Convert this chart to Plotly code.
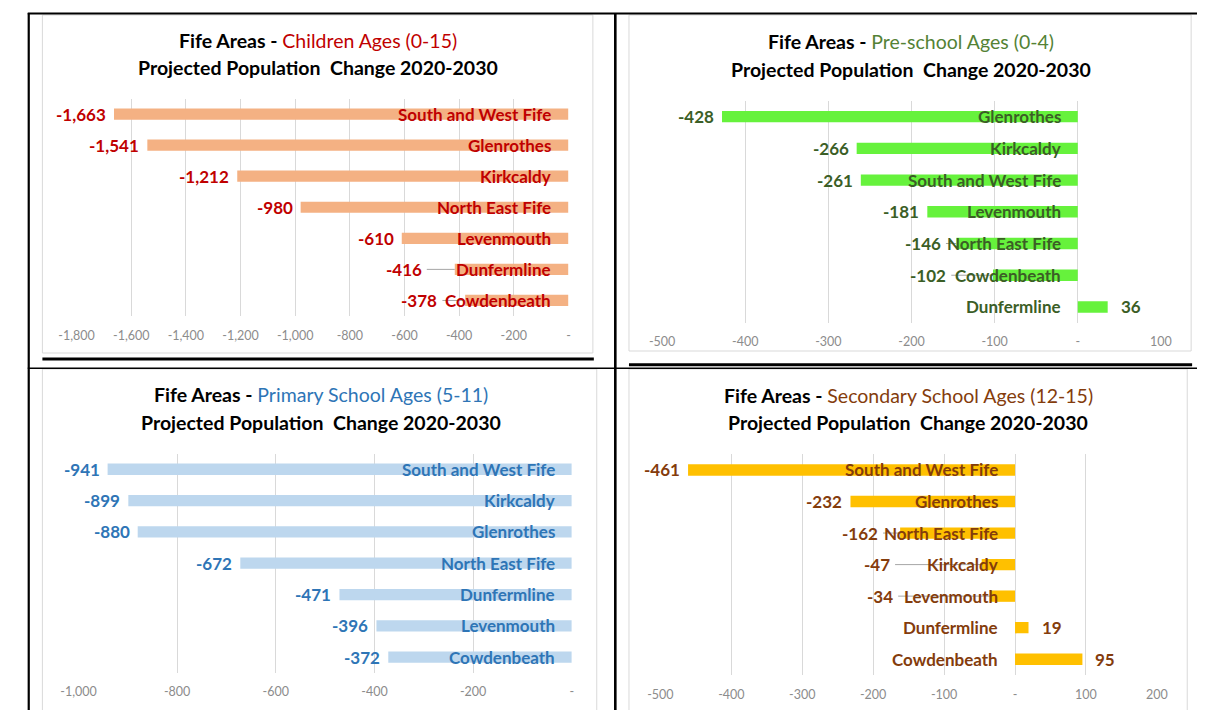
import plotly.graph_objects as go

# ---------------------------------------------------------------
# Projected population change 2020-2030, Fife areas (top to bottom)
# ---------------------------------------------------------------
children_areas = ["South and West Fife", "Glenrothes", "Kirkcaldy", "North East Fife",
                  "Levenmouth", "Dunfermline", "Cowdenbeath"]
children_change = [-1663, -1541, -1212, -980, -610, -416, -378]

preschool_areas = ["Glenrothes", "Kirkcaldy", "South and West Fife", "Levenmouth",
                   "North East Fife", "Cowdenbeath", "Dunfermline"]
preschool_change = [-428, -266, -261, -181, -146, -102, 36]

primary_areas = ["South and West Fife", "Kirkcaldy", "Glenrothes", "North East Fife",
                 "Dunfermline", "Levenmouth", "Cowdenbeath"]
primary_change = [-941, -899, -880, -672, -471, -396, -372]

secondary_areas = ["South and West Fife", "Glenrothes", "North East Fife", "Kirkcaldy",
                   "Levenmouth", "Dunfermline", "Cowdenbeath"]
secondary_change = [-461, -232, -162, -47, -34, 19, 95]

children_ticks = [-1800, -1600, -1400, -1200, -1000, -800, -600, -400, -200, 0]
children_tick_labels = ["-1,800", "-1,600", "-1,400", "-1,200", "-1,000",
                        "-800", "-600", "-400", "-200", "-"]
preschool_ticks = [-500, -400, -300, -200, -100, 0, 100]
preschool_tick_labels = ["-500", "-400", "-300", "-200", "-100", "-", "100"]
primary_ticks = [-1000, -800, -600, -400, -200, 0]
primary_tick_labels = ["-1,000", "-800", "-600", "-400", "-200", "-"]
secondary_ticks = [-500, -400, -300, -200, -100, 0, 100, 200]
secondary_tick_labels = ["-500", "-400", "-300", "-200", "-100", "-", "100", "200"]

W, H = 1208, 710
FONT = "Lato"


def px(x):
    return x / W


def py(y):
    return 1 - y / H


# Approximate advance widths (per 1000 em) of a bold humanist sans,
# used to keep value labels clear of the area names drawn over the bars.
_BOLD_W = {
    "a": 494, "b": 537, "c": 418, "d": 537, "e": 503, "f": 316, "g": 474, "h": 537,
    "i": 246, "k": 480, "l": 246, "m": 813, "n": 537, "o": 538, "r": 355, "s": 399,
    "t": 347, "u": 537, "v": 474, "w": 745, "y": 474, " ": 226, "C": 529, "D": 630,
    "E": 488, "F": 459, "G": 637, "K": 535, "L": 423, "N": 659, "S": 473, "W": 890,
}
REF_LABEL_PX = 18.7
NAME_SHIFT = -15      # area name offset from the zero line (px)
NEG_GAP = 6           # gap between a negative bar end and its value (px)
POS_GAP = 11          # gap after a positive bar end (px)

# value labels that were dragged further out, keyed by (chart, area), in px
LABEL_NUDGE = {(0, "Dunfermline"): -25, (3, "Kirkcaldy"): -30}


def label_width(text):
    return sum(_BOLD_W.get(c, 520) for c in text) / 1000 * REF_LABEL_PX


panels = [
    dict(areas=children_areas, change=children_change,
         ticks=children_ticks, tick_labels=children_tick_labels,
         group="Children Ages (0-15)", title_color="#C00000",
         label_color="#C00000", bar_color="#F4B183",
         dom=(60, 564, 98.5, 316), title_x=307, title_y=(40, 68)),
    dict(areas=preschool_areas, change=preschool_change,
         ticks=preschool_ticks, tick_labels=preschool_tick_labels,
         group="Pre-school Ages (0-4)", title_color="#548235",
         label_color="#3B5E26", bar_color="#66F23C",
         dom=(660, 1171, 100.8, 322.8), title_x=915, title_y=(41, 70)),
    dict(areas=primary_areas, change=primary_change,
         ticks=primary_ticks, tick_labels=primary_tick_labels,
         group="Primary School Ages (5-11)", title_color="#2E75B6",
         label_color="#2E75B6", bar_color="#BDD7EE",
         dom=(62, 567.4, 453.6, 672.8), title_x=310, title_y=(394.5, 422)),
    dict(areas=secondary_areas, change=secondary_change,
         ticks=secondary_ticks, tick_labels=secondary_tick_labels,
         group="Secondary School Ages (12-15)", title_color="#843C0C",
         label_color="#843C0C", bar_color="#FFC000",
         dom=(658.2, 1166.9, 454.2, 675), title_x=912, title_y=(395, 422.5)),
]

fig = go.Figure()
annotations = []
shapes = []

# Light grey chart-area frames
for (x0, x1, y0, y1) in [(25, 589, 15, 353), (626, 1202, 15, 351),
                         (25, 593, 369, 712), (626, 1198, 369, 712)]:
    shapes.append(dict(type="rect", xref="paper", yref="paper",
                       x0=px(x0), x1=px(x1), y0=py(y0), y1=py(y1),
                       line=dict(color="#D9D9D9", width=1), fillcolor="white",
                       layer="below"))

for i, p in enumerate(panels, start=1):
    xa = "x" if i == 1 else f"x{i}"
    ya = "y" if i == 1 else f"y{i}"
    x0, x1, y0, y1 = p["dom"]
    lo, hi = p["ticks"][0], p["ticks"][-1]
    scale = (x1 - x0) / (hi - lo)  # pixels per unit
    n = len(p["areas"])

    fig.add_trace(go.Bar(
        x=p["change"], y=list(range(n)), orientation="h",
        marker=dict(color=p["bar_color"], line=dict(width=0)),
        width=0.36, xaxis=xa, yaxis=ya, showlegend=False, hoverinfo="skip",
    ))

    fig.layout[f"xaxis{'' if i == 1 else i}"] = dict(
        domain=[px(x0), px(x1)], anchor=ya, range=[lo, hi],
        tickmode="array", tickvals=p["ticks"], ticktext=p["tick_labels"],
        showgrid=True, gridcolor="#D9D9D9", gridwidth=1, zeroline=False,
        showline=False, ticks="", ticklabelstandoff=10,
        tickfont=dict(family=FONT, size=12.5, color="#8C8C8C"), fixedrange=True,
    )
    fig.layout[f"yaxis{'' if i == 1 else i}"] = dict(
        domain=[py(y1), py(y0)], anchor=xa, range=[n - 0.5, -0.5],
        showgrid=False, zeroline=False, showline=False, showticklabels=False,
        ticks="", fixedrange=True,
    )

    # Two-line chart title
    annotations.append(dict(
        xref="paper", yref="paper", x=px(p["title_x"]), y=py(p["title_y"][0]),
        xanchor="center", yanchor="middle", showarrow=False,
        text=f"<b>Fife Areas -\u00a0</b><span style='color:{p['title_color']}'>{p['group']}</span>",
        font=dict(family=FONT, size=19.5, color="#000000"),
    ))
    annotations.append(dict(
        xref="paper", yref="paper", x=px(p["title_x"]), y=py(p["title_y"][1]),
        xanchor="center", yanchor="middle", showarrow=False,
        text="<b>Projected Population\u00a0\u00a0Change 2020-2030</b>",
        font=dict(family=FONT, size=19.5, color="#000000"),
    ))

    label_font = dict(family=FONT, size=17, color=p["label_color"])
    for k, (area, v) in enumerate(zip(p["areas"], p["change"])):
        # Area name sits just left of the zero line, over the bar
        annotations.append(dict(
            xref=xa, yref=ya, x=0, y=k, xanchor="right", yanchor="middle",
            xshift=NAME_SHIFT, showarrow=False, text=f"<b>{area}</b>", font=label_font,
        ))
        if v < 0:
            name_left = NAME_SHIFT - 2 - label_width(area)   # px relative to zero
            bar_end = v * scale                               # px relative to zero
            offset = min(0.0, name_left - bar_end) + LABEL_NUDGE.get((i - 1, area), 0)
            annotations.append(dict(
                xref=xa, yref=ya, x=v, y=k, xanchor="right", yanchor="middle",
                xshift=offset - NEG_GAP, showarrow=False, text=f"<b>{v:,}</b>",
                font=label_font,
            ))
            if offset < -2:
                # leader line from the moved value label back to the bar end
                shapes.append(dict(
                    type="line", xref=xa, yref=ya, xsizemode="pixel", xanchor=v,
                    x0=offset - 3, x1=0, y0=k, y1=k,
                    line=dict(color="#A6A6A6", width=1), layer="above",
                ))
        else:
            annotations.append(dict(
                xref=xa, yref=ya, x=v, y=k, xanchor="left", yanchor="middle",
                xshift=POS_GAP, showarrow=False, text=f"<b>{v:,}</b>",
                font=label_font,
            ))

# Table rules around and between the four charts
black_lines = [
    (10, 13.5, 1208, 13.5, 2.2),     # top edge
    (11, 13, 11, 712, 2.2),          # left edge
    (612, 13, 612, 712, 2.6),        # centre divider
    (25, 359, 590, 359, 2.8),        # under upper-left chart
    (626, 364.8, 1203, 364.8, 3),    # under upper-right chart
    (10, 368.2, 1208, 368.2, 1.6),   # row divider
]
for (a, b, c, d, w) in black_lines:
    shapes.append(dict(type="line", xref="paper", yref="paper",
                       x0=px(a), y0=py(b), x1=px(c), y1=py(d),
                       line=dict(color="#000000", width=w), layer="above"))

fig.update_layout(
    width=W, height=H, margin=dict(l=0, r=0, t=0, b=0),
    paper_bgcolor="white", plot_bgcolor="rgba(0,0,0,0)",
    annotations=annotations, shapes=shapes, bargap=0.6,
    font=dict(family=FONT),
)

fig.write_html("out.html", config={"displayModeBar": False})
